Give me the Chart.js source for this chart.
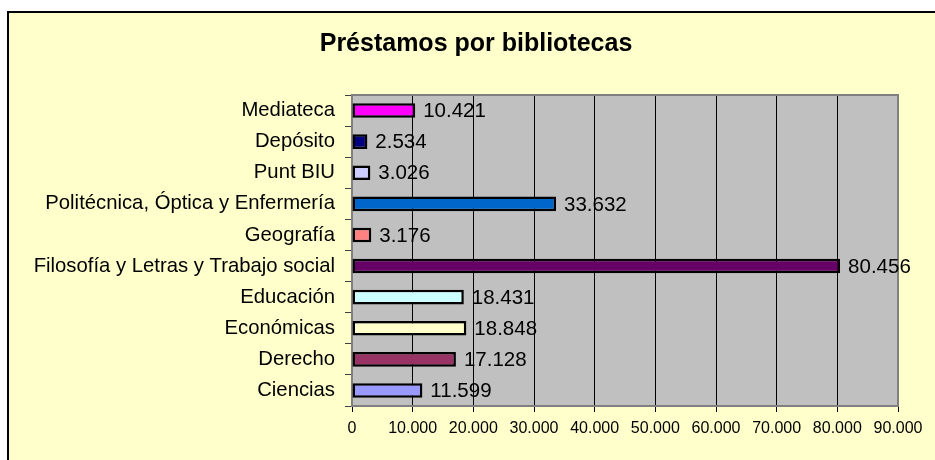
<!DOCTYPE html>
<html>
<head>
<meta charset="utf-8">
<title>Préstamos por bibliotecas</title>
<script src="https://cdn.jsdelivr.net/npm/chart.js@4/dist/chart.umd.min.js"></script>
<style>
    html, body { margin: 0; padding: 0; background: #ffffff; }
    #wrap { width: 935px; height: 460px; position: relative; }
</style>
</head>
<body>
<div id="wrap"><canvas id="loansChart" width="935" height="460"></canvas></div>
<script>
// Chart data
const chartTitle = 'Préstamos por bibliotecas';
const libraries = [
    'Mediateca',
    'Depósito',
    'Punt BIU',
    'Politécnica, Óptica y Enfermería',
    'Geografía',
    'Filosofía y Letras y Trabajo social',
    'Educación',
    'Económicas',
    'Derecho',
    'Ciencias'
];
const loans = [10421, 2534, 3026, 33632, 3176, 80456, 18431, 18848, 17128, 11599];
const barColors = ['#FF00FF', '#000080', '#CCCCFF', '#0066CC', '#FF8080',
                   '#660066', '#CCFFFF', '#FFFFCC', '#993366', '#9999FF'];
const axisMax = 90000;
const axisStep = 10000;

const FONT = '"Liberation Sans", Arial, sans-serif';

// Spanish style thousands separator
function formatThousands(num) {
    return String(Math.round(num)).replace(/\B(?=(\d{3})+(?!\d))/g, '.');
}

// Background, frame, plot area and title
const backgroundPlugin = {
    id: 'background',
    beforeDraw(chart) {
        const ctx = chart.ctx;
        const area = chart.chartArea;
        ctx.save();
        ctx.fillStyle = '#ffffff';
        ctx.fillRect(0, 0, chart.width, chart.height);
        ctx.fillStyle = '#FFFFCC';
        ctx.fillRect(7, 12, chart.width, chart.height);
        ctx.strokeStyle = '#000000';
        ctx.lineWidth = 2;
        ctx.beginPath();
        ctx.moveTo(8, chart.height);
        ctx.lineTo(8, 12);
        ctx.lineTo(chart.width, 12);
        ctx.stroke();
        // plot area
        ctx.fillStyle = '#C0C0C0';
        ctx.fillRect(area.left, area.top, area.right - area.left, area.bottom - area.top);
        // title
        ctx.fillStyle = '#000000';
        ctx.font = 'bold 25px ' + FONT;
        ctx.textAlign = 'center';
        ctx.textBaseline = 'alphabetic';
        ctx.fillText(chartTitle, 476, 51);
        ctx.restore();
    },
    beforeDatasetsDraw(chart) {
        const ctx = chart.ctx;
        const area = chart.chartArea;
        ctx.save();
        ctx.strokeStyle = '#808080';
        ctx.lineWidth = 2;
        ctx.strokeRect(area.left, area.top, area.right - area.left, area.bottom - area.top);
        ctx.restore();
    }
};

// Value labels to the right of each bar
const valueLabelPlugin = {
    id: 'valueLabels',
    afterDatasetsDraw(chart) {
        const ctx = chart.ctx;
        const meta = chart.getDatasetMeta(0);
        ctx.save();
        ctx.fillStyle = '#000000';
        ctx.font = '20.5px ' + FONT;
        ctx.textAlign = 'left';
        ctx.textBaseline = 'middle';
        meta.data.forEach((bar, i) => {
            ctx.fillText(formatThousands(loans[i]), bar.x + 8, bar.y + 1);
        });
        ctx.restore();
    }
};

new Chart(document.getElementById('loansChart'), {
    type: 'bar',
    data: {
        labels: libraries,
        datasets: [{
            data: loans,
            backgroundColor: barColors,
            borderColor: '#000000',
            borderWidth: 2.5,
            borderSkipped: false,
            barPercentage: 0.47,
            categoryPercentage: 1.0
        }]
    },
    options: {
        indexAxis: 'y',
        responsive: false,
        animation: false,
        events: [],
        layout: {
            padding: { top: 95, right: 37, bottom: 0, left: 0 }
        },
        plugins: {
            legend: { display: false },
            title: { display: false },
            tooltip: { enabled: false }
        },
        scales: {
            x: {
                type: 'linear',
                min: 0,
                max: axisMax,
                afterFit(scale) { scale.height = 54; },
                ticks: {
                    stepSize: axisStep,
                    color: '#000000',
                    padding: 7,
                    maxRotation: 0,
                    font: { family: FONT, size: 16 },
                    callback: value => formatThousands(value)
                },
                grid: {
                    color: '#000000',
                    lineWidth: 1,
                    tickLength: 6,
                    drawOnChartArea: true
                },
                border: { display: true, color: '#808080', width: 2 }
            },
            y: {
                afterFit(scale) { scale.width = 352; },
                ticks: {
                    color: '#000000',
                    padding: 10,
                    font: { family: FONT, size: 20.3 }
                },
                grid: {
                    color: '#404040',
                    lineWidth: 1,
                    tickLength: 7,
                    drawOnChartArea: false
                },
                border: { display: true, color: '#808080', width: 2 }
            }
        }
    },
    plugins: [backgroundPlugin, valueLabelPlugin]
});
</script>
</body>
</html>
